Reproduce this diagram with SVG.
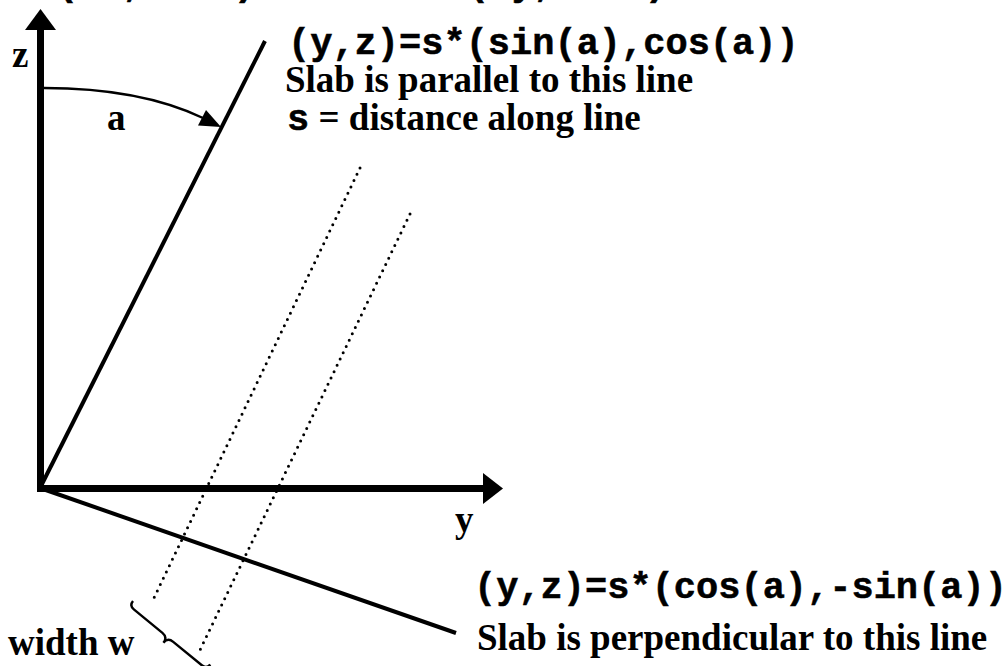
<svg xmlns="http://www.w3.org/2000/svg" width="1008" height="666" viewBox="0 0 1008 666">
<style>
.serif{font-family:"Liberation Serif","Times New Roman",serif;font-weight:bold;font-size:37px;fill:#000}
.mono{font-family:"Liberation Mono","Courier New",monospace;font-weight:bold;font-size:37px;fill:#000;stroke:#000;stroke-width:0.5}
.axis{stroke:#000;stroke-width:7;fill:none}
.line{stroke:#000;stroke-width:4;fill:none}
.dot{stroke:#000;stroke-width:3;fill:none;stroke-linecap:round;stroke-dasharray:0 7}
.thin{stroke:#000;stroke-width:2.4;fill:none}
</style>
<rect width="1008" height="666" fill="#fff"/>
<g id="title">
<text class="mono" x="56" y="-5">(+x,view)</text>
<text class="mono" x="467" y="-5">(-y,view)</text>
</g>
<g id="connectors">
<line class="axis" x1="40.5" y1="492" x2="40.5" y2="26"/>
<polygon points="40.5,9 25,30 56,30" fill="#000"/>
<line class="axis" x1="37" y1="488.5" x2="486" y2="488.5"/>
<polygon points="503,488.5 483,473 483,504" fill="#000"/>
<line class="line" x1="40" y1="488" x2="265" y2="41"/>
<line class="line" x1="40" y1="488" x2="456" y2="633"/>
<line class="dot" x1="360" y1="168" x2="152" y2="602"/>
<line class="dot" x1="410" y1="214" x2="200" y2="650"/>
<path class="thin" d="M44,88 Q140,88 203,118"/>
<polygon points="221,127 198,125.5 206,110" fill="#000"/>
<path class="thin" transform="translate(133,601) rotate(39.4)" d="M0,0 C0,4 2,6 6,6 L43,6 C47,6 50,8 50,13 C50,8 53,6 57,6 L94,6 C98,6 100,4 100,0"/>
</g>
<g id="label-z"><text class="serif" x="12" y="67">z</text></g>
<g id="label-a"><text class="serif" x="107" y="130">a</text></g>
<g id="label-y"><text class="serif" x="455" y="532">y</text></g>
<g id="parallel-note">
<text class="mono" x="288" y="54">(y,z)=s*(sin(a),cos(a))</text>
<text class="serif" x="285" y="92">Slab is parallel to this line</text>
<text x="287" y="130"><tspan class="mono">s</tspan><tspan class="serif"> = distance along line</tspan></text>
</g>
<g id="perpendicular-note">
<text class="mono" x="474" y="598">(y,z)=s*(cos(a),-sin(a))</text>
<text class="serif" x="477" y="650">Slab is perpendicular to this line</text>
</g>
<g id="label-width"><text class="serif" x="8" y="655">width w</text></g>
</svg>
